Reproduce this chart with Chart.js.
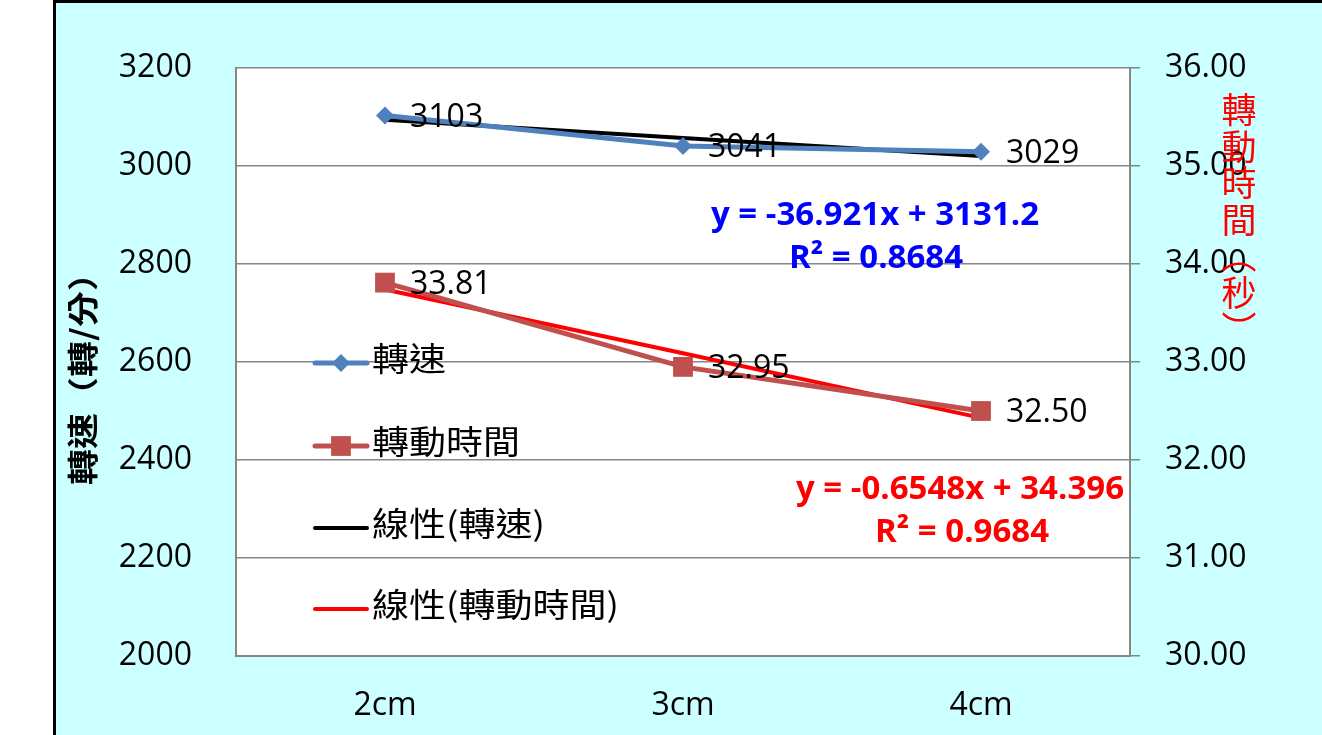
<!DOCTYPE html>
<html>
<head>
<meta charset="utf-8">
<title>轉速與轉動時間</title>
<script src="https://cdn.jsdelivr.net/npm/chart.js@4.4.1/dist/chart.umd.min.js"></script>
<style>
  html, body { margin: 0; padding: 0; background: #fff; overflow: hidden; }
  #frame { position: absolute; left: 53px; top: 0; width: 1400px; height: 800px;
           border: 3px solid #000; background: #ccffff; }
  #grafico { position: absolute; left: 0; top: 0; }
</style>
</head>
<body>
<div id="frame"></div>
<canvas id="grafico" width="1322" height="735"></canvas>
<script>
// distancia
const categories = ['2cm', '3cm', '4cm'];
// 轉速 (轉/分)
const speed = [3103, 3041, 3029];
// 轉動時間 (秒)
const spinTime = [33.81, 32.95, 32.50];
// linear trendlines, y = -36.921x + 3131.2 and y = -0.6548x + 34.396
const speedTrend = [3094.28, 3057.36, 3020.44];
const timeTrend = [33.74, 33.09, 32.43];

const leftTicks = { min: 2000, max: 3200, step: 200 };
const rightTicks = { min: 30, max: 36, step: 1 };

const NUM_FONT = '"Open Sans", "Noto Sans", sans-serif';
const CJK_FONT = '"Noto Sans CJK TC", "Noto Sans CJK SC", sans-serif';
const GRID = '#868686';

const ctx = document.getElementById('grafico').getContext('2d');

// white plot area
const plotBackground = {
    id: 'plotBackground',
    beforeDraw(chart) {
        const a = chart.chartArea;
        chart.ctx.save();
        chart.ctx.fillStyle = '#ffffff';
        chart.ctx.fillRect(a.left, a.top, a.right - a.left, a.bottom - a.top);
        chart.ctx.restore();
    }
};

function marker(c, style, x, y, r, color) {
    c.fillStyle = color;
    c.beginPath();
    if (style === 'rectRot') {
        c.moveTo(x, y - r); c.lineTo(x + r, y); c.lineTo(x, y + r); c.lineTo(x - r, y);
        c.closePath();
    } else if (style === 'rect') {
        const s = r * Math.SQRT1_2;
        c.rect(x - s, y - s, 2 * s, 2 * s);
    }
    c.fill();
}

// CJK text a little flattened, like the office font
function squashedText(c, txt, x, y, k) {
    c.save();
    c.translate(x, y);
    c.scale(1, k);
    c.fillText(txt, 0, 0);
    c.restore();
}

// value labels, legend, trend equations and the axis titles
const extras = {
    id: 'extras',
    afterDatasetsDraw(chart) {
        const c = chart.ctx;
        const a = chart.chartArea;
        c.save();

        // value labels beside the points
        c.font = '32px ' + NUM_FONT;
        c.fillStyle = '#000';
        c.textAlign = 'left';
        c.textBaseline = 'middle';
        [0, 1].forEach(i => {
            const ds = chart.data.datasets[i];
            chart.getDatasetMeta(i).data.forEach((pt, j) => {
                const v = ds.data[j];
                const txt = i === 1 ? v.toFixed(2) : String(v);
                c.fillText(txt, pt.x + 25, pt.y + 2);
            });
        });

        // legend inside the plot
        const rows = [363, 446, 528, 609];
        c.font = '37px ' + CJK_FONT;
        chart.data.datasets.forEach((ds, i) => {
            const y = rows[i];
            c.strokeStyle = ds.borderColor;
            c.lineWidth = ds.borderWidth;
            c.lineCap = 'round';
            c.beginPath();
            c.moveTo(315, y);
            c.lineTo(367, y);
            c.stroke();
            if (ds.pointRadius > 0) marker(c, ds.pointStyle, 341, y, ds.pointRadius, ds.pointBackgroundColor);
            c.fillStyle = '#000';
            squashedText(c, ds.label, 372, y - 4, 0.88);
        });

        // trendline equations
        c.textAlign = 'center';
        c.font = 'bold 33px ' + NUM_FONT;
        c.fillStyle = '#0000ff';
        c.fillText('y = -36.921x + 3131.2', 875, 216);
        c.fillText('R² = 0.8684', 876, 259);
        c.fillStyle = '#ff0000';
        c.fillText('y = -0.6548x + 34.396', 960, 490);
        c.fillText('R² = 0.9684', 962, 533);

        // left axis title, rotated
        c.save();
        c.translate(82, 370);
        c.rotate(-Math.PI / 2);
        c.scale(1, 0.85);
        c.font = 'bold 36px ' + CJK_FONT;
        c.fillStyle = '#000';
        c.fillText('轉速（轉/分）', 0, 0);
        c.restore();

        // right axis title, stacked vertically
        const title = ['轉', '動', '時', '間', '︵', '秒', '︶'];
        c.font = '35px ' + CJK_FONT;
        c.fillStyle = '#ff0000';
        title.forEach((ch, k) => c.fillText(ch, a.right + 109, 110 + k * 36.5));

        c.restore();
    }
};

const chart = new Chart(ctx, {
    type: 'line',
    data: {
        labels: categories,
        datasets: [
            {
                label: '轉速',
                data: speed,
                yAxisID: 'y',
                borderColor: '#4f81bd',
                backgroundColor: '#4f81bd',
                pointBackgroundColor: '#4f81bd',
                pointBorderWidth: 0,
                pointStyle: 'rectRot',
                pointRadius: 9,
                borderWidth: 5
            },
            {
                label: '轉動時間',
                data: spinTime,
                yAxisID: 'y1',
                borderColor: '#c0504d',
                backgroundColor: '#c0504d',
                pointBackgroundColor: '#c0504d',
                pointBorderWidth: 0,
                pointStyle: 'rect',
                pointRadius: 14,
                borderWidth: 5
            },
            {
                label: '線性(轉速)',
                data: speedTrend,
                yAxisID: 'y',
                borderColor: '#000000',
                pointRadius: 0,
                borderWidth: 4
            },
            {
                label: '線性(轉動時間)',
                data: timeTrend,
                yAxisID: 'y1',
                borderColor: '#ff0000',
                pointRadius: 0,
                borderWidth: 4
            }
        ]
    },
    options: {
        responsive: false,
        animation: false,
        layout: { padding: { left: 55, top: 68, right: 0, bottom: 0 } },
        plugins: {
            legend: { display: false },
            tooltip: { enabled: false }
        },
        scales: {
            x: {
                offset: true,
                grid: { display: false, drawTicks: false },
                border: { color: GRID, width: 2 },
                ticks: { color: '#000', padding: 31, font: { family: NUM_FONT, size: 32 } },
                afterFit: s => { s.height = 79; }
            },
            y: {
                position: 'left',
                min: leftTicks.min,
                max: leftTicks.max,
                ticks: {
                    stepSize: leftTicks.step,
                    color: '#000',
                    padding: 44,
                    font: { family: NUM_FONT, size: 32 },
                    callback: v => String(v)
                },
                grid: { color: GRID, lineWidth: 1.5, drawTicks: false },
                border: { color: GRID, width: 2 },
                afterFit: s => { s.width = 181; }
            },
            y1: {
                position: 'right',
                min: rightTicks.min,
                max: rightTicks.max,
                ticks: {
                    stepSize: rightTicks.step,
                    color: '#000',
                    padding: 25,
                    font: { family: NUM_FONT, size: 32 },
                    callback: v => v.toFixed(2)
                },
                grid: { drawOnChartArea: false, color: GRID, lineWidth: 1.5, tickLength: 10 },
                border: { color: GRID, width: 2 },
                afterFit: s => { s.width = 192; }
            }
        }
    },
    plugins: [plotBackground, extras]
});
</script>
</body>
</html>
